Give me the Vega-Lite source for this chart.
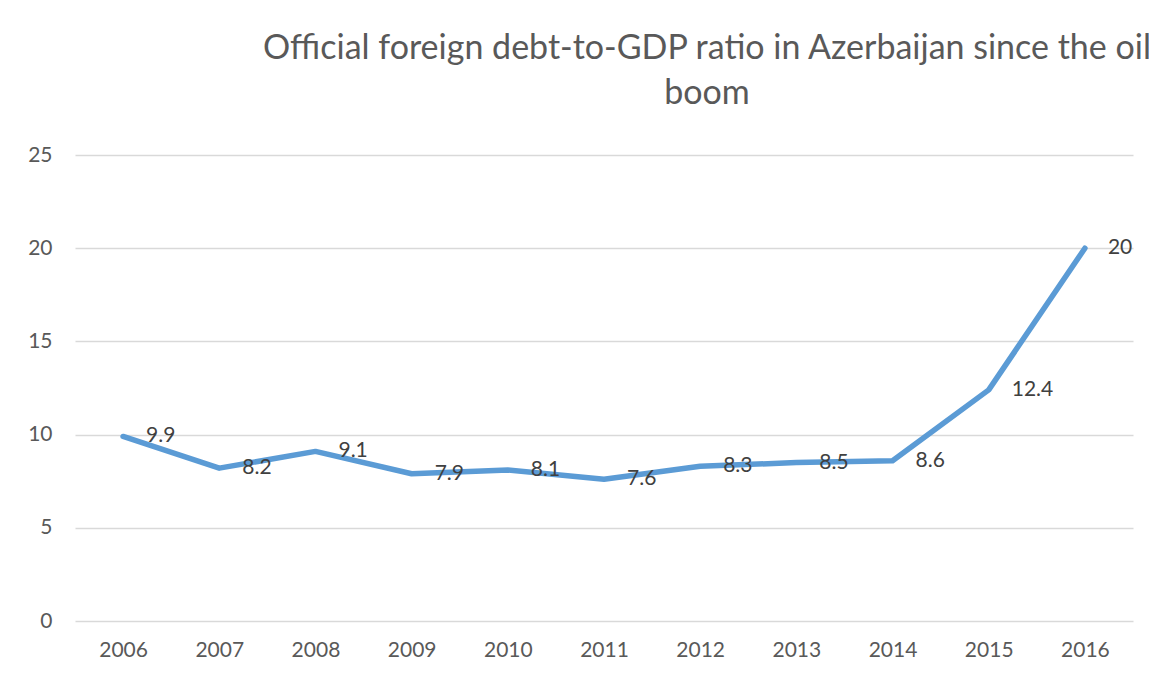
{
  "$schema": "https://vega.github.io/schema/vega-lite/v6.json",
  "autosize": {"type": "none"},
  "width": 1058,
  "height": 466,
  "padding": {"left": 75, "top": 155, "right": 16, "bottom": 56},
  "background": "white",
  "config": {
    "font": "Lato",
    "view": {"stroke": null}
  },
  "title": {
    "text": ["Official foreign debt-to-GDP ratio in Azerbaijan since the oil", "boom"],
    "anchor": "middle",
    "dx": 103,
    "fontSize": 34,
    "fontWeight": "normal",
    "color": "#595959",
    "lineHeight": 45,
    "offset": 33
  },
  "data": {
    "values": [
      {"year": "2006", "ratio": 9.9},
      {"year": "2007", "ratio": 8.2},
      {"year": "2008", "ratio": 9.1},
      {"year": "2009", "ratio": 7.9},
      {"year": "2010", "ratio": 8.1},
      {"year": "2011", "ratio": 7.6},
      {"year": "2012", "ratio": 8.3},
      {"year": "2013", "ratio": 8.5},
      {"year": "2014", "ratio": 8.6},
      {"year": "2015", "ratio": 12.4},
      {"year": "2016", "ratio": 20}
    ]
  },
  "encoding": {
    "x": {
      "field": "year", "type": "ordinal",
      "scale": {"type": "point", "padding": 0.5},
      "axis": {
        "title": null, "labelAngle": 0, "domain": false, "ticks": false,
        "labelFontSize": 21, "labelColor": "#595959", "labelPadding": 18, "grid": false
      }
    },
    "y": {
      "field": "ratio", "type": "quantitative",
      "scale": {"domain": [0, 25], "nice": false},
      "axis": {
        "title": null, "values": [0, 5, 10, 15, 20, 25], "domain": false, "ticks": false,
        "labelFontSize": 21, "labelColor": "#595959", "labelPadding": 23,
        "gridColor": "#d9d9d9", "gridWidth": 1.5
      }
    }
  },
  "layer": [
    {
      "mark": {"type": "line", "color": "#5B9BD5", "strokeWidth": 5.5, "strokeCap": "round", "strokeJoin": "round"}
    },
    {
      "mark": {"type": "text", "align": "left", "baseline": "middle", "dx": 23, "fontSize": 21, "color": "#404040"},
      "encoding": {"text": {"field": "ratio", "type": "quantitative"}}
    }
  ]
}
